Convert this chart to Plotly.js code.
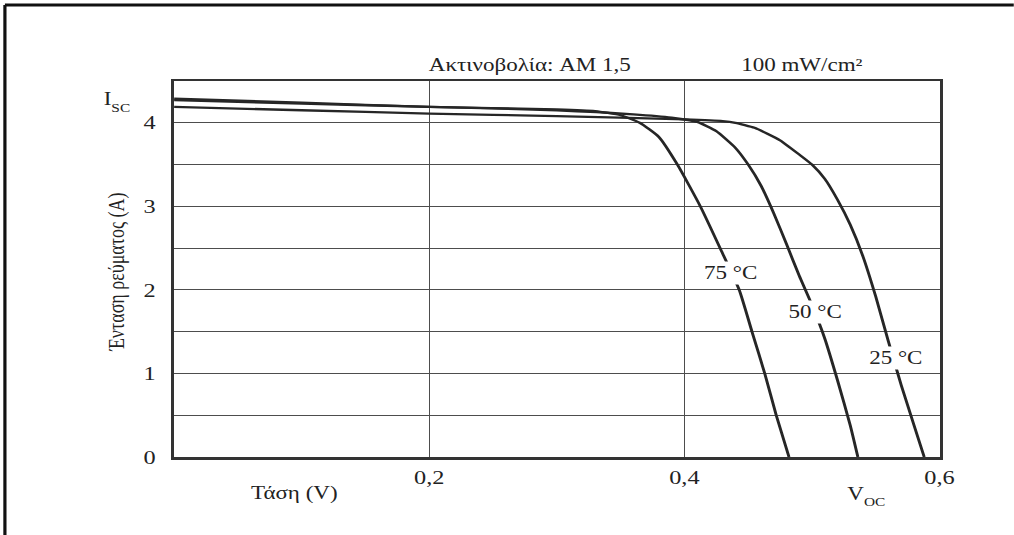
<!DOCTYPE html>
<html>
<head>
<meta charset="utf-8">
<script src="https://cdn.plot.ly/plotly-3.0.1.min.js"></script>
<style>
  html, body { margin: 0; padding: 0; background: #ffffff; overflow: hidden; }
  #chart { width: 792px; height: 535px; transform: scaleX(1.28); transform-origin: 0 0; }
</style>
</head>
<body>
<div id="chart"></div>
<script>
// ---- data (V in volts, I in amperes) ----
const voltage25 = [0, 0.1, 0.2, 0.3, 0.4, 0.43, 0.44, 0.455, 0.475, 0.49, 0.50, 0.51, 0.52, 0.53, 0.54, 0.55, 0.56, 0.57, 0.58, 0.588];
const current25 = [4.19, 4.15, 4.11, 4.08, 4.04, 4.02, 4.00, 3.94, 3.79, 3.62, 3.50, 3.33, 3.08, 2.78, 2.40, 1.92, 1.38, 0.86, 0.38, 0];

const voltage50 = [0, 0.1, 0.2, 0.3, 0.36, 0.39, 0.41, 0.425, 0.44, 0.45, 0.46, 0.47, 0.48, 0.49, 0.50, 0.51, 0.52, 0.53, 0.536];
const current50 = [4.27, 4.23, 4.19, 4.15, 4.10, 4.06, 4.01, 3.90, 3.70, 3.50, 3.25, 2.92, 2.55, 2.17, 1.82, 1.42, 0.92, 0.38, 0];

const voltage75 = [0, 0.1, 0.2, 0.3, 0.33, 0.35, 0.365, 0.38, 0.3945, 0.4125, 0.428, 0.443, 0.453, 0.463, 0.472, 0.482];
const current75 = [4.29, 4.24, 4.19, 4.16, 4.14, 4.09, 4.00, 3.83, 3.50, 3.00, 2.50, 2.00, 1.50, 1.00, 0.50, 0];

const seriesNames = ["25 °C", "50 °C", "75 °C"];

const xTickVals = [0.2, 0.4, 0.6];
const xTickText = ["0,2", "0,4", "0,6"];
const yTickVals = [0, 1, 2, 3, 4];
const yTickText = ["0", "1", "2", "3", "4"];

const titleTop = "Ακτινοβολία: AM 1,5";
const titleIrr = "100 mW/cm²";
const xTitle = "Τάση (V)";
const yTitle = "Ένταση ρεύματος (A)";

// ---- styling ----
const FONT = "Liberation Serif, Times New Roman, serif";
const INK = "#262626";
const TXT = "#222222";
const lineStyle = { color: INK, width: 2.3, shape: "spline", smoothing: 0.5 };

const traces = [
  { x: voltage25, y: current25, name: seriesNames[0] },
  { x: voltage50, y: current50, name: seriesNames[1] },
  { x: voltage75, y: current75, name: seriesNames[2] }
].map(t => Object.assign(t, { type: "scatter", mode: "lines", line: lineStyle, hoverinfo: "skip" }));

const axisCommon = {
  showgrid: true, gridcolor: "#4d4d4d", gridwidth: 1,
  showline: true, linecolor: "#333333", linewidth: 2.5, mirror: true,
  zeroline: false, ticks: "", fixedrange: true,
  tickfont: { family: FONT, size: 19, color: TXT }
};

function ann(text, x, y, extra) {
  return Object.assign({
    text: text, x: x, y: y, xref: "paper", yref: "paper",
    showarrow: false, xanchor: "center", yanchor: "middle",
    font: { family: FONT, size: 18, color: TXT }
  }, extra || {});
}

function curveLabel(text, x, y) {
  return {
    text: text, x: x, y: y, xref: "x", yref: "y",
    showarrow: false, xanchor: "center", yanchor: "middle",
    bgcolor: "#ffffff", borderpad: 1,
    font: { family: FONT, size: 18, color: TXT }
  };
}

const SUB = { family: FONT, size: 12, color: TXT };

const layout = {
  width: 792, height: 535, autosize: false,
  margin: { l: 135.9, r: 58.4, t: 81, b: 78, pad: 0 },
  paper_bgcolor: "#ffffff", plot_bgcolor: "#ffffff",
  showlegend: false,
  separators: ",.",
  xaxis: Object.assign({}, axisCommon, {
    range: [0, 0.6], tickvals: xTickVals, ticktext: xTickText, ticklabelstandoff: 2
  }),
  yaxis: Object.assign({}, axisCommon, {
    range: [0, 4.5], tickvals: yTickVals, ticktext: yTickText, ticklabelstandoff: 8,
    minor: { tick0: 0, dtick: 0.5, showgrid: true, gridcolor: "#4d4d4d", gridwidth: 1, ticks: "" }
  }),
  annotations: [
    ann(titleTop, 0.465, 1.043),
    ann(titleIrr, 0.820, 1.043),
    ann("I", -0.0869, 0.952),
    ann("SC", -0.0845, 0.9295, { xanchor: "left", font: SUB }),
    ann("V", 0.8908, -0.0984),
    ann("OC", 0.8975, -0.121, { xanchor: "left", font: SUB }),
    ann(xTitle, 0.158, -0.096),
    ann(yTitle, -0.0758, 0.492, { textangle: -90 }),
    curveLabel(seriesNames[2], 0.436, 2.20),
    curveLabel(seriesNames[1], 0.503, 1.73),
    curveLabel(seriesNames[0], 0.566, 1.19)
  ],
  shapes: [
    { type: "line", xref: "paper", yref: "paper", x0: -0.221, x1: 1.10, y0: 1.202, y1: 1.202,
      line: { color: "#111111", width: 3 } },
    { type: "line", xref: "paper", yref: "paper", x0: -0.221, x1: -0.221, y0: 1.202, y1: -0.23,
      line: { color: "#111111", width: 2.5 } }
  ]
};

Plotly.newPlot("chart", traces, layout, { staticPlot: true, displayModeBar: false });
</script>
</body>
</html>
